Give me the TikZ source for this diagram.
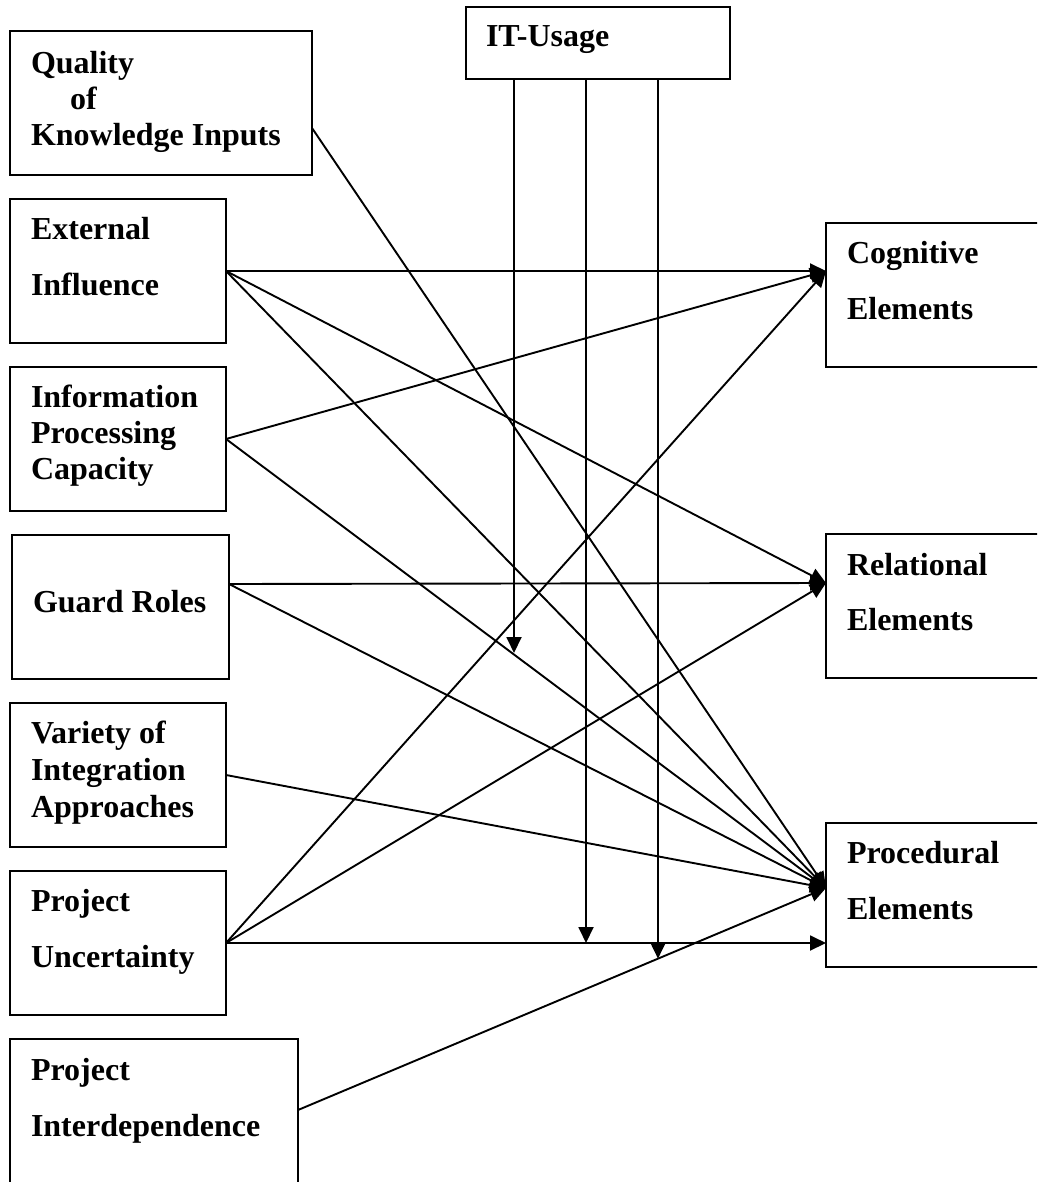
\documentclass[tikz,border=0pt]{standalone}
\usepackage{fontspec}
\setmainfont{Liberation Serif}
\usetikzlibrary{arrows.meta,calc}
% left-aligned stack of lines whose baseline is that of the first line
\newcommand\boxlines[2]{\vtop{\baselineskip=#1\relax\lineskiplimit=-100pt\halign{##\hfil\cr#2\crcr}}}
\begin{document}
\begin{tikzpicture}[x=1pt,y=-1pt,
  font=\fontsize{32}{36}\selectfont\bfseries,
  factor/.style={draw,line width=2.4pt,anchor=north west,inner sep=0pt,outer sep=0pt,minimum height=144pt},
  label text/.style={anchor=base west,inner sep=0pt,outer sep=0pt},
  arr/.style={line width=1.9pt,-{Triangle[length=16pt,width=15pt]}}]
\clip (0,0) rectangle (1037,1182);
\fill[white] (0,0) rectangle (1037,1182);

% antecedent factors (left column)
\node[factor,minimum width=302pt] (qual)  at (10,31)   {};
\node[factor,minimum width=216pt] (ext)   at (10,199)  {};
\node[factor,minimum width=216pt] (info)  at (10,367)  {};
\node[factor,minimum width=217pt] (guard) at (12,535)  {};
\node[factor,minimum width=216pt] (var)   at (10,703)  {};
\node[factor,minimum width=216pt] (unc)   at (10,871)  {};
\node[factor,minimum width=288pt,minimum height=170pt] (ipd) at (10,1039) {};

% moderator
\node[factor,minimum width=264pt,minimum height=72pt] (it) at (466,7) {};

% outcome elements (right column)
\node[factor,minimum width=250pt] (cog)  at (826,223) {};
\node[factor,minimum width=250pt] (rel)  at (826,534) {};
\node[factor,minimum width=250pt] (proc) at (826,823) {};

% box texts
\node[label text] (qualT)  at ($(qual.north west)+(21,43)$)  {\boxlines{36pt}{Quality\cr\hspace{39pt}of\cr Knowledge Inputs}};
\node[label text] (extT)   at ($(ext.north west)+(21,41)$)   {\boxlines{56pt}{External\cr Influence}};
\node[label text] (infoT)  at ($(info.north west)+(21,40)$)  {\boxlines{36pt}{Information\cr Processing\cr Capacity}};
\node[label text] (guardT) at ($(guard.north west)+(21,77)$) {Guard Roles};
\node[label text] (varT)   at ($(var.north west)+(21,40)$)   {\boxlines{37pt}{Variety of\cr Integration\cr Approaches}};
\node[label text] (uncT)   at ($(unc.north west)+(21,40)$)   {\boxlines{56pt}{Project\cr Uncertainty}};
\node[label text] (ipdT)   at ($(ipd.north west)+(21,41)$)   {\boxlines{56pt}{Project\cr Interdependence}};
\node[label text] (itT)    at ($(it.north west)+(20,40)$)    {IT-Usage};
\node[label text] (cogT)   at ($(cog.north west)+(21,40)$)   {\boxlines{56pt}{Cognitive\cr Elements}};
\node[label text] (relT)   at ($(rel.north west)+(21,41)$)   {\boxlines{55pt}{Relational\cr Elements}};
\node[label text] (procT)  at ($(proc.north west)+(21,40)$)  {\boxlines{56pt}{Procedural\cr Elements}};

% connector ends
\coordinate (cogIn)    at ($(cog.north west)+(0,48)$);
\coordinate (relIn)    at ($(rel.north west)+(0,49)$);
\coordinate (procIn)   at ($(proc.north west)+(0,65)$);
\coordinate (procLow)  at ($(proc.north west)+(0,120)$);
\coordinate (qualOut)  at ($(qual.north east)+(0,97)$);
\coordinate (guardOut) at ($(guard.north east)+(0,49)$);
\coordinate (ipdOut)   at ($(ipd.north east)+(0,71)$);
\coordinate (itA) at ($(it.south west)+(48,0)$);
\coordinate (itB) at ($(it.south west)+(120,0)$);
\coordinate (itC) at ($(it.south west)+(192,0)$);
\coordinate (itAend) at ($(itA)+(0,574)$);
\coordinate (itCfar) at ($(itC)+(0,1100)$);

% direct effects
\draw[arr] (ext.east) -- (cogIn);
\draw[arr] (ext.east) -- (relIn);
\draw[arr] (ext.east) -- (procIn);
\draw[arr] (info.east) -- (cogIn);
\draw[arr] (info.east) -- (procIn);
\draw[arr] (guardOut) -- (relIn);
\draw[arr] (guardOut) -- (procIn);
\draw[arr] (var.east) -- (procIn);
\draw[arr] (unc.east) -- (cogIn);
\draw[arr] (unc.east) -- (relIn);
\draw[arr] (unc.east) -- (procLow);
\draw[arr] (qualOut) -- (procIn);
\draw[arr] (ipdOut) -- (procIn);

% moderating effects of IT usage
\draw[arr] (itA) -- (itAend);
\draw[arr] (itB) -- (itB |- procLow);
\draw[arr] (itC) -- (intersection of itC--itCfar and ipdOut--procIn);
\end{tikzpicture}
\end{document}
